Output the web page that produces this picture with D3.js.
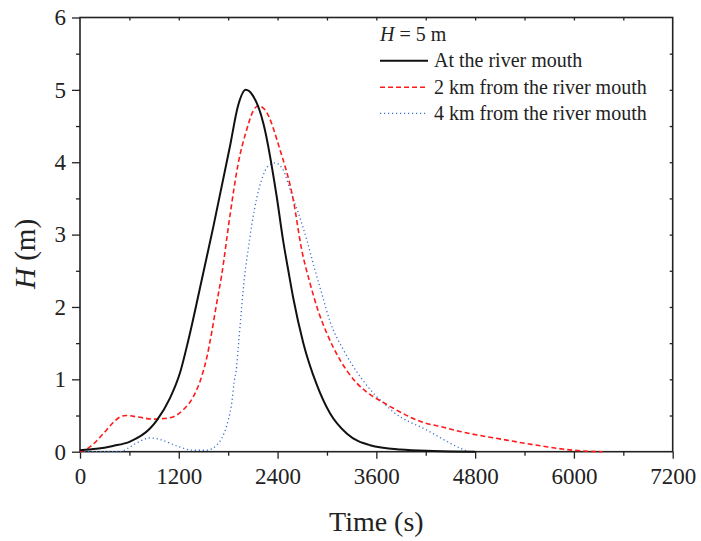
<!DOCTYPE html>
<html>
<head>
<meta charset="utf-8">
<script src="https://cdn.jsdelivr.net/npm/d3@7"></script>
<style>
  body { margin: 0; background: #fff; }
  svg text { font-family: "Liberation Serif", "Times New Roman", serif; fill: #222; }
</style>
</head>
<body>
<svg id="chart" width="701" height="541"></svg>
<script>
// time (s) and wave height H (m)
const mouthTime = [0, 200, 400, 607, 850, 931, 1093, 1215, 1316, 1478, 1620, 1822, 1920, 2013, 2100, 2227, 2389, 2470, 2531, 2591, 2713, 2875, 3037, 3240, 3523, 3887, 4300, 4800];
const mouthH    = [0.02, 0.04, 0.08, 0.14, 0.32, 0.43, 0.74, 1.09, 1.54, 2.37, 3.11, 4.22, 4.78, 5.0, 4.92, 4.54, 3.53, 2.9, 2.5, 2.12, 1.5, 0.93, 0.53, 0.25, 0.09, 0.03, 0.01, 0];

const km2Time = [0, 100, 283, 400, 486, 560, 700, 891, 1093, 1255, 1377, 1478, 1540, 1600, 1660, 1721, 1820, 1923, 2025, 2100, 2166, 2250, 2430, 2591, 2693, 2794, 2895, 2997, 3158, 3361, 3563, 3700, 3806, 4211, 4373, 4616, 5183, 5600, 5993, 6350];
const km2H    = [0, 0.05, 0.25, 0.4, 0.48, 0.5, 0.48, 0.45, 0.47, 0.58, 0.76, 1.04, 1.3, 1.65, 2.05, 2.44, 3.25, 3.99, 4.45, 4.7, 4.78, 4.72, 4.17, 3.48, 2.79, 2.33, 1.94, 1.64, 1.27, 0.95, 0.76, 0.67, 0.6, 0.39, 0.35, 0.28, 0.16, 0.08, 0.02, 0];

const km4Time = [0, 480, 600, 688, 850, 972, 1174, 1377, 1539, 1660, 1741, 1802, 1843, 1871, 1903, 1923, 2004, 2045, 2086, 2146, 2207, 2288, 2369, 2470, 2551, 2652, 2754, 2855, 2936, 3037, 3199, 3401, 3563, 3700, 3806, 4211, 4616, 4717];
const km4H    = [0, 0, 0.06, 0.12, 0.19, 0.17, 0.08, 0.02, 0.02, 0.09, 0.23, 0.44, 0.67, 0.95, 1.18, 1.45, 2.47, 2.81, 3.13, 3.5, 3.76, 3.95, 3.99, 3.89, 3.62, 3.3, 2.93, 2.51, 2.19, 1.8, 1.41, 1.04, 0.81, 0.66, 0.55, 0.3, 0.05, 0];

const seriesNames = ['At the river mouth', '2 km from the river mouth', '4 km from the river mouth'];
const xTicks = [0, 1200, 2400, 3600, 4800, 6000, 7200];
const yTicks = [0, 1, 2, 3, 4, 5, 6];

const margin = {top: 17.5, right: 28.3, bottom: 89.3, left: 80};
const W = 701, H = 541;
const width = W - margin.left - margin.right;
const height = H - margin.top - margin.bottom;

const svg = d3.select('#chart');
const g = svg.append('g').attr('transform', `translate(${margin.left},${margin.top})`);

const x = d3.scaleLinear().domain([0, 7200]).range([0, width]);
const y = d3.scaleLinear().domain([0, 6]).range([height, 0]);

// minor ticks
const xMinor = d3.range(600, 7200, 1200);
const yMinor = d3.range(0.5, 6, 1);

const axisColor = '#222';

// bottom axis
g.append('g')
    .attr('transform', `translate(0,${height})`)
    .call(d3.axisBottom(x).tickValues(xTicks).tickFormat(d3.format('d')).tickSizeInner(7).tickSizeOuter(0).tickPadding(9))
    .call(a => a.select('.domain').remove())
    .call(a => a.selectAll('text').style('font-size', '23px').attr('fill', axisColor));
g.append('g')
    .attr('transform', `translate(0,${height})`)
    .call(d3.axisBottom(x).tickValues(xMinor).tickSize(4).tickFormat(''))
    .call(a => a.select('.domain').remove());

// left axis
g.append('g')
    .call(d3.axisLeft(y).tickValues(yTicks).tickFormat(d3.format('d')).tickSizeInner(8).tickSizeOuter(0).tickPadding(6))
    .call(a => a.select('.domain').remove())
    .call(a => a.selectAll('text').style('font-size', '23px').attr('fill', axisColor));
g.append('g')
    .call(d3.axisLeft(y).tickValues(yMinor).tickSize(4).tickFormat(''))
    .call(a => a.select('.domain').remove());

// top and right ticks point inward
g.append('g')
    .call(d3.axisBottom(x).tickValues(d3.range(600, 7200, 600)).tickSize(3).tickFormat(''))
    .call(a => a.select('.domain').remove());
g.append('g')
    .attr('transform', `translate(${width},0)`)
    .call(d3.axisLeft(y).tickValues(d3.range(0.5, 6, 0.5)).tickSize(3).tickFormat(''))
    .call(a => a.select('.domain').remove());

g.selectAll('.tick line').attr('stroke', axisColor).attr('stroke-width', 1.3);

// frame
g.append('rect')
    .attr('width', width).attr('height', height)
    .attr('fill', 'none').attr('stroke', axisColor).attr('stroke-width', 1.6);

// curves
const line = d3.line()
    .x(d => x(d[0]))
    .y(d => y(d[1]))
    .curve(d3.curveMonotoneX);

const series = [
  {time: km4Time, h: km4H, color: '#3a6fd0', dash: '1.2,2.8', w: 1.3},
  {time: km2Time, h: km2H, color: '#ff1a1a', dash: '5,3', w: 1.6},
  {time: mouthTime, h: mouthH, color: '#111', dash: null, w: 2}
];

series.forEach(s => {
  g.append('path')
      .datum(s.time.map((t, i) => [t, s.h[i]]))
      .attr('fill', 'none')
      .attr('stroke', s.color)
      .attr('stroke-width', s.w)
      .attr('stroke-dasharray', s.dash)
      .attr('d', line);
});

// legend
const leg = svg.append('g').attr('transform', 'translate(380,0)');
const hLabel = leg.append('text').attr('x', 0).attr('y', 41).style('font-size', '20px');
hLabel.append('tspan').style('font-style', 'italic').text('H');
hLabel.append('tspan').text(' = 5 m');

const legendStyles = [
  {color: '#111', dash: null, w: 2},
  {color: '#ff1a1a', dash: '5,3', w: 1.6},
  {color: '#3a6fd0', dash: '1.2,2.8', w: 1.3}
];
const rowY = [60.7, 87.3, 113.3];
seriesNames.forEach((name, i) => {
  leg.append('line')
      .attr('x1', 0).attr('x2', 48)
      .attr('y1', rowY[i]).attr('y2', rowY[i])
      .attr('stroke', legendStyles[i].color)
      .attr('stroke-width', legendStyles[i].w)
      .attr('stroke-dasharray', legendStyles[i].dash);
  leg.append('text')
      .attr('x', 54).attr('y', rowY[i] + 6.5)
      .style('font-size', '20px')
      .text(name);
});

// axis titles
svg.append('text')
    .attr('x', margin.left + width / 2).attr('y', 531)
    .attr('text-anchor', 'middle')
    .style('font-size', '28px')
    .text('Time (s)');

const yTitle = svg.append('text')
    .attr('transform', 'translate(35,254) rotate(-90)')
    .attr('text-anchor', 'middle')
    .style('font-size', '29px');
yTitle.append('tspan').style('font-style', 'italic').text('H');
yTitle.append('tspan').text(' (m)');
</script>
</body>
</html>
